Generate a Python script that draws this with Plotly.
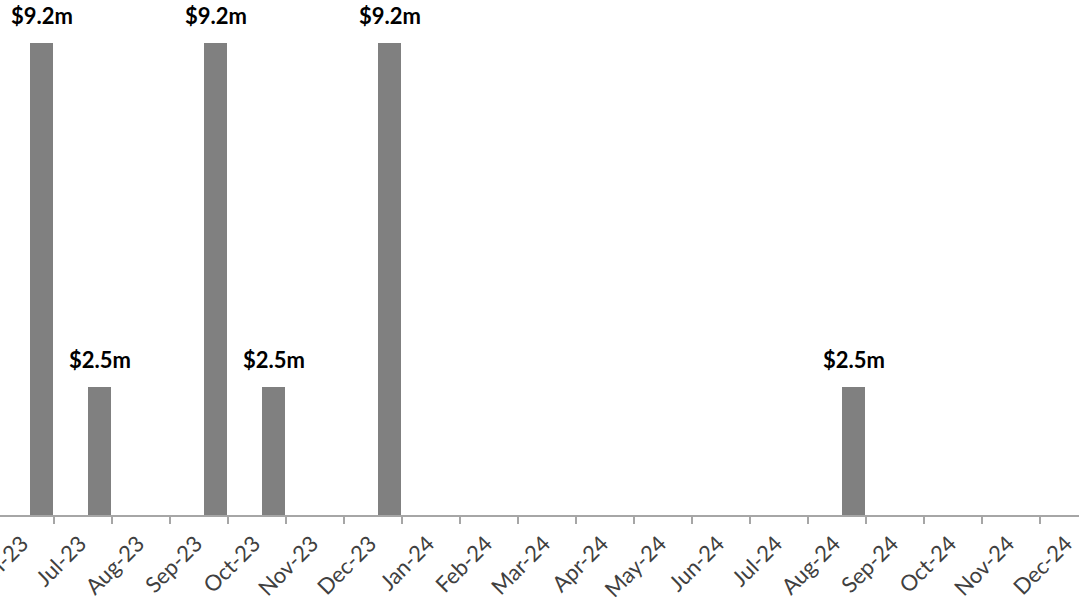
import plotly.graph_objects as go

# Monthly tick labels along the date axis
months = ["Jun-23", "Jul-23", "Aug-23", "Sep-23", "Oct-23", "Nov-23", "Dec-23",
          "Jan-24", "Feb-24", "Mar-24", "Apr-24", "May-24", "Jun-24", "Jul-24",
          "Aug-24", "Sep-24", "Oct-24", "Nov-24", "Dec-24"]

# Payment months and amounts ($ millions)
pay_months = ["Jul-23", "Aug-23", "Oct-23", "Nov-23", "Jan-24", "Sep-24"]
pay_amounts = [9.2, 2.5, 9.2, 2.5, 9.2, 2.5]

idx = {m: i for i, m in enumerate(months)}
bar_x = [idx[m] for m in pay_months]

BAR_W = 0.41
BAR_OFF = -0.42  # bars sit just before the month's tick mark
LABEL_SHIFT = 0.45  # rotated labels trail the tick mark
FONT = "Lato, Carlito, Calibri, sans-serif"

fig = go.Figure()
fig.add_trace(go.Bar(
    x=bar_x, y=pay_amounts,
    width=BAR_W, offset=BAR_OFF,
    marker=dict(color="#808080", line=dict(width=0)),
    hoverinfo="skip",
))

for x, v in zip(bar_x, pay_amounts):
    fig.add_annotation(
        x=x + BAR_OFF + BAR_W / 2, y=v, xref="x", yref="y",
        text=f"<b>${v:.1f}m</b>", showarrow=False,
        yanchor="bottom", yshift=12,
        font=dict(family=FONT, size=22, color="#000000"),
    )

fig.update_layout(
    width=1079, height=604,
    margin=dict(l=0, r=0, t=0, b=89, autoexpand=False),
    paper_bgcolor="white", plot_bgcolor="white",
    showlegend=False, bargap=0,
    xaxis=dict(
        range=[0.069, 18.672],
        automargin=False,
        tickmode="array",
        tickvals=[i + LABEL_SHIFT for i in range(len(months))],
        ticktext=months,
        tickangle=-45,
        ticks="", ticklen=0,
        ticklabelstandoff=5,
        ticklabeloverflow="allow",
        showgrid=False, zeroline=False,
        showline=True, linecolor="#a6a6a6", linewidth=2,
        tickfont=dict(family=FONT, size=22, color="#404040"),
        minor=dict(
            tickmode="array", tickvals=list(range(len(months))),
            ticks="outside", ticklen=7, tickwidth=2, tickcolor="#a6a6a6",
            showgrid=False,
        ),
    ),
    yaxis=dict(
        range=[0, 10.04], visible=False, showgrid=False, zeroline=False,
        automargin=False,
    ),
)

fig.write_html("out.html")
